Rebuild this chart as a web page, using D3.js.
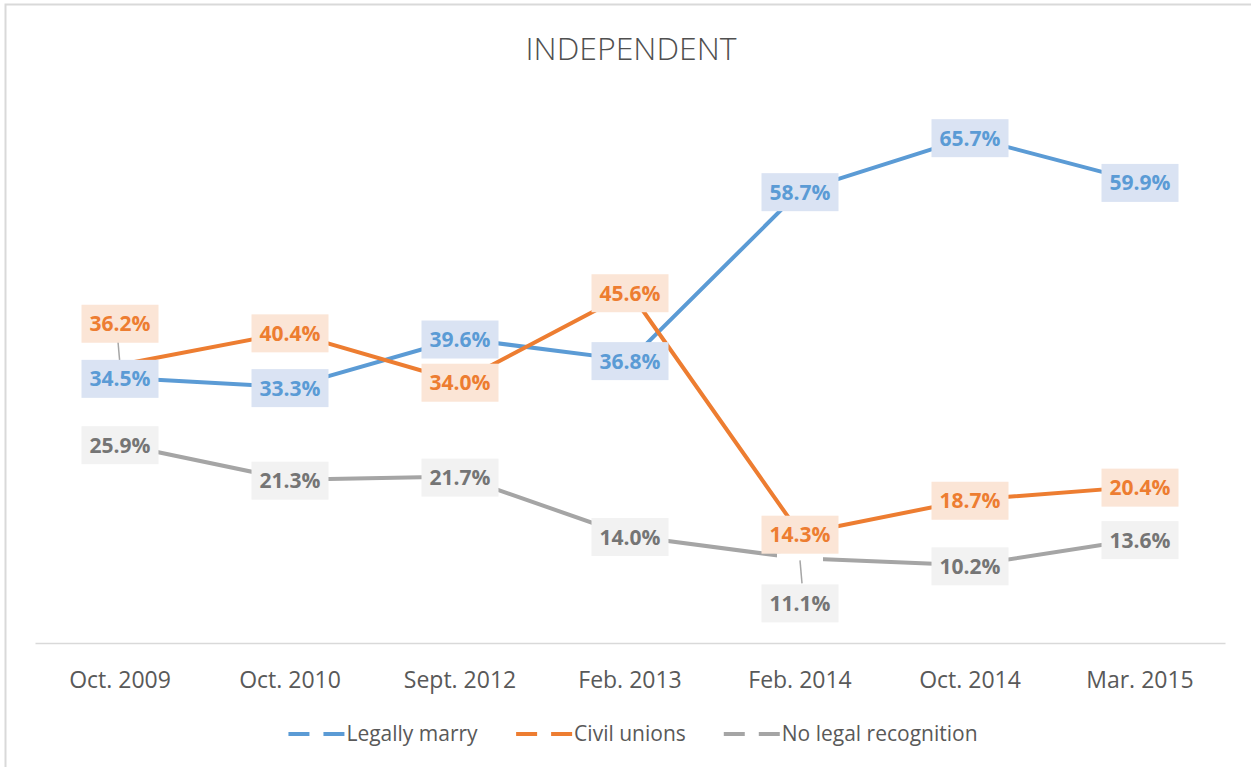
<!DOCTYPE html>
<html>
<head>
<meta charset="utf-8">
<script src="https://cdn.jsdelivr.net/npm/d3@7"></script>
<style>
  body { margin: 0; background: #fff; }
  svg { display: block; font-family: "Open Sans", "Noto Sans", sans-serif; }
</style>
</head>
<body>
<div id="chart"></div>
<script>
var categories = ["Oct. 2009", "Oct. 2010", "Sept. 2012", "Feb. 2013", "Feb. 2014", "Oct. 2014", "Mar. 2015"];
var seriesNames = ["Legally marry", "Civil unions", "No legal recognition"];
var legallyMarry = [34.5, 33.3, 39.6, 36.8, 58.7, 65.7, 59.9];
var civilUnions = [36.2, 40.4, 34.0, 45.6, 14.3, 18.7, 20.4];
var noRecognition = [25.9, 21.3, 21.7, 14.0, 11.1, 10.2, 13.6];

var lineColors = ["#5b9bd5", "#ed7d31", "#a5a5a5"];
var labelFill = ["#dae3f3", "#fbe5d6", "#f2f2f2"];
var labelText = ["#5b9bd5", "#ed7d31", "#757575"];
// labels moved off their point (series index, point index, dy in px)
var labelNudges = [{s: 1, i: 0, dy: -42}, {s: 2, i: 4, dy: 44}];

var W = 1251, H = 767;
var margin = {top: 104, right: 26, bottom: 123, left: 35};

var svg = d3.select("#chart").append("svg").attr("width", W).attr("height", H);

// chart border (only top/left edges fall inside the picture)
svg.append("rect")
  .attr("x", 5.5).attr("y", 4.5)
  .attr("width", W + 10).attr("height", H + 10)
  .attr("fill", "none").attr("stroke", "#d9d9d9").attr("stroke-width", 2);

svg.append("text")
  .attr("x", 631).attr("y", 60)
  .attr("text-anchor", "middle")
  .attr("font-size", 32).attr("font-weight", 300)
  .attr("fill", "#505050")
  .text("INDEPENDENT");

var x = d3.scaleBand().domain(categories).range([margin.left, W - margin.right]);
var y = d3.scaleLinear().domain([0, 70]).range([H - margin.bottom, margin.top]);
var cx = function(c) { return x(c) + x.bandwidth() / 2; };

// x axis
var xAxis = svg.append("g")
  .attr("transform", "translate(0," + (H - margin.bottom - 1) + ")")
  .call(d3.axisBottom(x).tickSize(0).tickPadding(29));
xAxis.select(".domain").attr("stroke", "#d9d9d9").attr("stroke-width", 1.5);
xAxis.selectAll("text")
  .attr("font-size", 23).attr("fill", "#595959")
  .attr("font-family", "\"Open Sans\", sans-serif");

var data = [legallyMarry, civilUnions, noRecognition].map(function(vals, s) {
  return {name: seriesNames[s], s: s, values: vals.map(function(v, i) {
    var nudge = labelNudges.find(function(n) { return n.s === s && n.i === i; });
    return {cat: categories[i], v: v, i: i, dy: nudge ? nudge.dy : 0};
  })};
});

var line = d3.line().x(function(d) { return cx(d.cat); }).y(function(d) { return y(d.v); });

svg.append("g").selectAll("path")
  .data(data)
  .enter().append("path")
  .attr("d", function(d) { return line(d.values); })
  .attr("fill", "none")
  .attr("stroke", function(d) { return lineColors[d.s]; })
  .attr("stroke-width", 4)
  .attr("stroke-linejoin", "round");

// small knock-out in the gray line under the moved 11.1% label
var moved = data[2].values[4];
svg.append("rect")
  .attr("x", cx(moved.cat) - 23).attr("y", y(moved.v) - 5)
  .attr("width", 46).attr("height", 10)
  .attr("fill", "#fff");

var boxW = 77, boxH = 38;
var allPts = [];
data.forEach(function(d) { d.values.forEach(function(p) { allPts.push({s: d.s, p: p}); }); });

// leader lines
svg.append("g").selectAll("line")
  .data(allPts.filter(function(d) { return d.p.dy !== 0; }))
  .enter().append("line")
  .attr("x1", function(d) { return cx(d.p.cat); })
  .attr("x2", function(d) { return cx(d.p.cat) + 2 * Math.sign(d.p.dy); })
  .attr("y1", function(d) { return d.p.dy > 0 ? y(d.p.v) + 2 : y(d.p.v); })
  .attr("y2", function(d) { return y(d.p.v) + d.p.dy - Math.sign(d.p.dy) * boxH / 2; })
  .attr("stroke", "#a6a6a6").attr("stroke-width", 1.5);

var labels = svg.append("g").selectAll("g")
  .data(allPts)
  .enter().append("g")
  .attr("transform", function(d) { return "translate(" + cx(d.p.cat) + "," + (y(d.p.v) + 1 + d.p.dy) + ")"; });

labels.append("rect")
  .attr("x", -boxW / 2).attr("y", -boxH / 2)
  .attr("width", boxW).attr("height", boxH)
  .attr("fill", function(d) { return labelFill[d.s]; });

labels.append("text")
  .attr("text-anchor", "middle")
  .attr("dy", "0.36em")
  .attr("font-size", 21).attr("font-weight", 700)
  .attr("fill", function(d) { return labelText[d.s]; })
  .text(function(d) { return d.p.v.toFixed(1) + "%"; });

// legend
var legend = svg.append("g").attr("transform", "translate(0,734)");
var items = legend.selectAll("g").data(seriesNames).enter().append("g");
items.append("line")
  .attr("x1", 0).attr("x2", 56).attr("y1", 0).attr("y2", 0)
  .attr("stroke", function(d, i) { return lineColors[i]; })
  .attr("stroke-width", 4)
  .attr("stroke-dasharray", "21,14");
items.append("text")
  .attr("x", 58).attr("dy", "0.35em")
  .attr("font-size", 21).attr("fill", "#595959")
  .text(function(d) { return d; });

var offset = 0, widths = [];
items.each(function() { widths.push(this.getBBox().width); });
var total = d3.sum(widths) + 38 * (widths.length - 1);
offset = 633 - total / 2;
items.attr("transform", function(d, i) {
  var t = "translate(" + offset + ",0)";
  offset += widths[i] + 38;
  return t;
});
</script>
</body>
</html>
